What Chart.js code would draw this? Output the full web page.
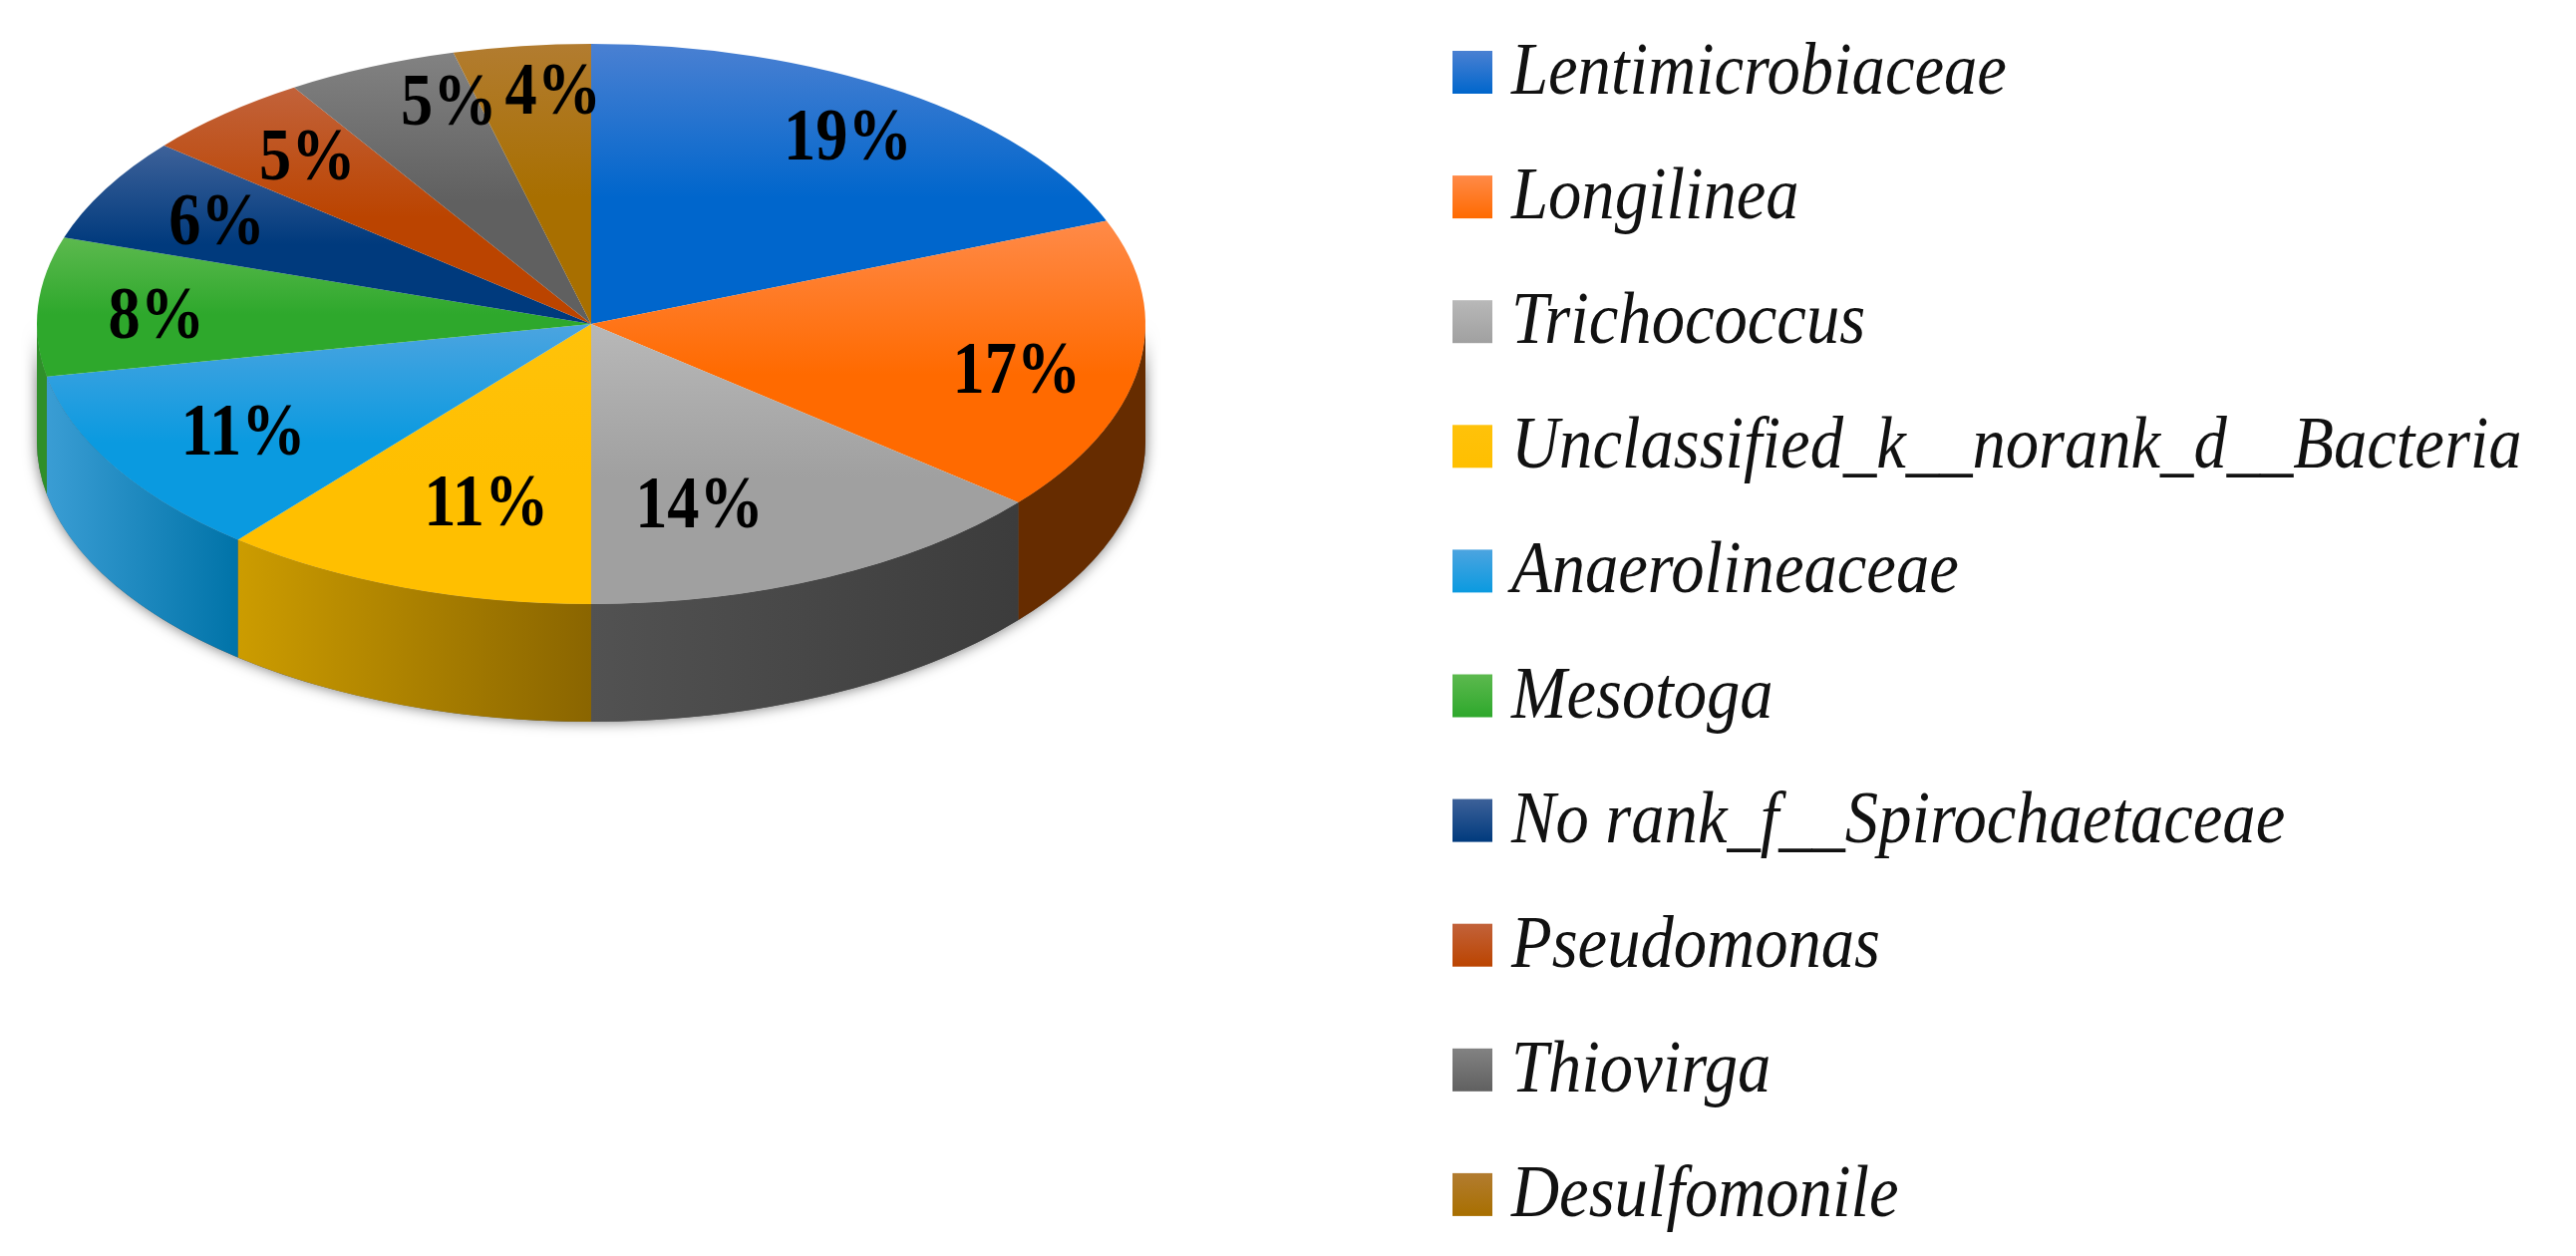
<!DOCTYPE html>
<html>
<head>
<meta charset="utf-8">
<title>Pie chart</title>
<script src="https://cdn.jsdelivr.net/npm/chart.js@4/dist/chart.umd.min.js"></script>
<style>
	html, body { margin: 0; background: #fff; }
	canvas { display: block; }
</style>
</head>
<body>
<canvas id="graficoPizza" width="2584" height="1260"></canvas>
<script>
var categorias = ['Lentimicrobiaceae', 'Longilinea', 'Trichococcus', 'Unclassified_k__norank_d__Bacteria', 'Anaerolineaceae', 'Mesotoga', 'No rank_f__Spirochaetaceae', 'Pseudomonas', 'Thiovirga', 'Desulfomonile'];
var valores = [19, 17, 14, 11, 11, 8, 6, 5, 5, 4];

var coresClaras = ['#4a80d2', '#ff8a48', '#b8b8b8', '#ffc20a', '#4ca4e0', '#5cb94e', '#3d6199', '#c2623a', '#828282', '#b27c30'];
var coresEscuras = ['#0066cc', '#ff6a00', '#a0a0a0', '#ffbf00', '#0a9ae0', '#2ea82c', '#003a7d', '#bb4400', '#606060', '#a86f00'];
var paredeEsquerda = ['#0066cc', '#662c00', '#525252', '#cc9c00', '#3a9dd4', '#2f8f2a', '#003a7d', '#bb4400', '#606060', '#a86f00'];
var paredeDireita = ['#0066cc', '#662c00', '#3c3c3c', '#8a6500', '#0073a8', '#2f8f2a', '#003a7d', '#bb4400', '#606060', '#a86f00'];

// nudges of the % labels away from their default spot
var ajusteX = [23, 15, -69, 36, 10, -20, -10, -9, 23, 14];
var ajusteY = [-10, 17, -6, -15, 5, 8, 2, -6, -26, -21];

var RAIO = 556;
var ACHATAMENTO = 281 / 556;
var ALTURA = 118;

function gradienteFatia(ctx) {
	var chart = ctx.chart;
	var i = ctx.dataIndex;
	if (!chart.chartArea) {
		return coresEscuras[i];
	}
	var total = 0, inicio = 0;
	valores.forEach(function(v, n) {
		total += v;
		if (n < i) inicio += v;
	});
	var cy = (chart.chartArea.top + chart.chartArea.bottom) / 2;
	var a0 = inicio / total * 2 * Math.PI;
	var a1 = (inicio + valores[i]) / total * 2 * Math.PI;
	var topo = 0, base = 0;
	for (var a = a0; a <= a1; a += 0.01) {
		var y = -Math.cos(a) * RAIO;
		topo = Math.min(topo, y);
		base = Math.max(base, y);
	}
	var g = chart.ctx.createLinearGradient(0, cy + topo, 0, cy + base);
	g.addColorStop(0, coresClaras[i]);
	g.addColorStop(0.55, coresEscuras[i]);
	g.addColorStop(1, coresEscuras[i]);
	return g;
}

// the reference type is tall and narrow, so the text is squeezed sideways
function textoEstreito(ctx, texto, x, y, largura) {
	ctx.save();
	ctx.translate(x, y);
	ctx.scale(largura, 1);
	ctx.fillText(texto, 0, 0);
	ctx.restore();
}

var pizza3d = {
	id: 'pizza3d',
	beforeDatasetsDraw: function(chart) {
		var ctx = chart.ctx;
		var arcos = chart.getDatasetMeta(0).data;
		var cx = arcos[0].x, cy = arcos[0].y;
		var ry = RAIO * ACHATAMENTO;

		ctx.save();
		ctx.shadowColor = 'rgba(0,0,0,0.55)';
		ctx.shadowBlur = 14;
		ctx.fillStyle = '#555';
		ctx.beginPath();
		ctx.ellipse(cx, cy, RAIO, ry, 0, 0, Math.PI);
		ctx.lineTo(cx - RAIO, cy + ALTURA);
		ctx.ellipse(cx, cy + ALTURA, RAIO, ry, 0, Math.PI, 0, true);
		ctx.closePath();
		ctx.fill();
		ctx.restore();

		arcos.forEach(function(arco, i) {
			var a0 = Math.max(arco.startAngle, 0);
			var a1 = Math.min(arco.endAngle, Math.PI);
			if (a1 <= a0) return;
			var x0 = cx + RAIO * Math.cos(a1);
			var x1 = cx + RAIO * Math.cos(a0);
			var g = ctx.createLinearGradient(x0, 0, x1, 0);
			g.addColorStop(0, paredeEsquerda[i]);
			g.addColorStop(1, paredeDireita[i]);
			ctx.fillStyle = g;
			ctx.beginPath();
			ctx.ellipse(cx, cy, RAIO, ry, 0, a0, a1);
			ctx.ellipse(cx, cy + ALTURA, RAIO, ry, 0, a1, a0, true);
			ctx.closePath();
			ctx.fill();
		});
	},
	beforeDatasetDraw: function(chart) {
		var arco = chart.getDatasetMeta(0).data[0];
		chart.ctx.save();
		chart.ctx.translate(arco.x, arco.y);
		chart.ctx.scale(1, ACHATAMENTO);
		chart.ctx.translate(-arco.x, -arco.y);
	},
	afterDatasetDraw: function(chart) {
		chart.ctx.restore();
	},
	afterDatasetsDraw: function(chart) {
		var ctx = chart.ctx;
		ctx.save();
		ctx.fillStyle = '#000';
		ctx.font = 'bold 74px "Liberation Serif"';
		ctx.textAlign = 'center';
		ctx.textBaseline = 'middle';
		chart.getDatasetMeta(0).data.forEach(function(arco, i) {
			var meio = (arco.startAngle + arco.endAngle) / 2;
			var x = arco.x + 0.75 * RAIO * Math.cos(meio) + ajusteX[i];
			var y = arco.y + 0.75 * RAIO * ACHATAMENTO * Math.sin(meio) + ajusteY[i];
			textoEstreito(ctx, valores[i] + '%', x, y, 0.87);
		});
		ctx.restore();
	},
	afterDraw: function(chart) {
		var ctx = chart.ctx;
		ctx.save();
		ctx.font = 'italic 74px "Liberation Serif"';
		ctx.textBaseline = 'alphabetic';
		ctx.textAlign = 'left';
		categorias.forEach(function(nome, i) {
			var y = 51 + i * 125.1;
			var g = ctx.createLinearGradient(0, y, 0, y + 43);
			g.addColorStop(0, coresClaras[i]);
			g.addColorStop(1, coresEscuras[i]);
			ctx.fillStyle = g;
			ctx.fillRect(1457, y, 40, 43);
			ctx.fillStyle = '#111';
			textoEstreito(ctx, nome, 1516, y + 43, 0.9);
		});
		ctx.restore();
	}
};

new Chart(document.getElementById('graficoPizza'), {
	type: 'pie',
	plugins: [pizza3d],
	data: {
		labels: categorias,
		datasets: [{
			data: valores,
			backgroundColor: gradienteFatia,
			borderWidth: 0,
			clip: false
		}]
	},
	options: {
		responsive: false,
		animation: false,
		radius: RAIO,
		layout: {
			padding: { left: 0, top: 0, right: 1398, bottom: 610 }
		},
		plugins: {
			legend: { display: false },
			tooltip: { enabled: false }
		}
	}
});
</script>
</body>
</html>
